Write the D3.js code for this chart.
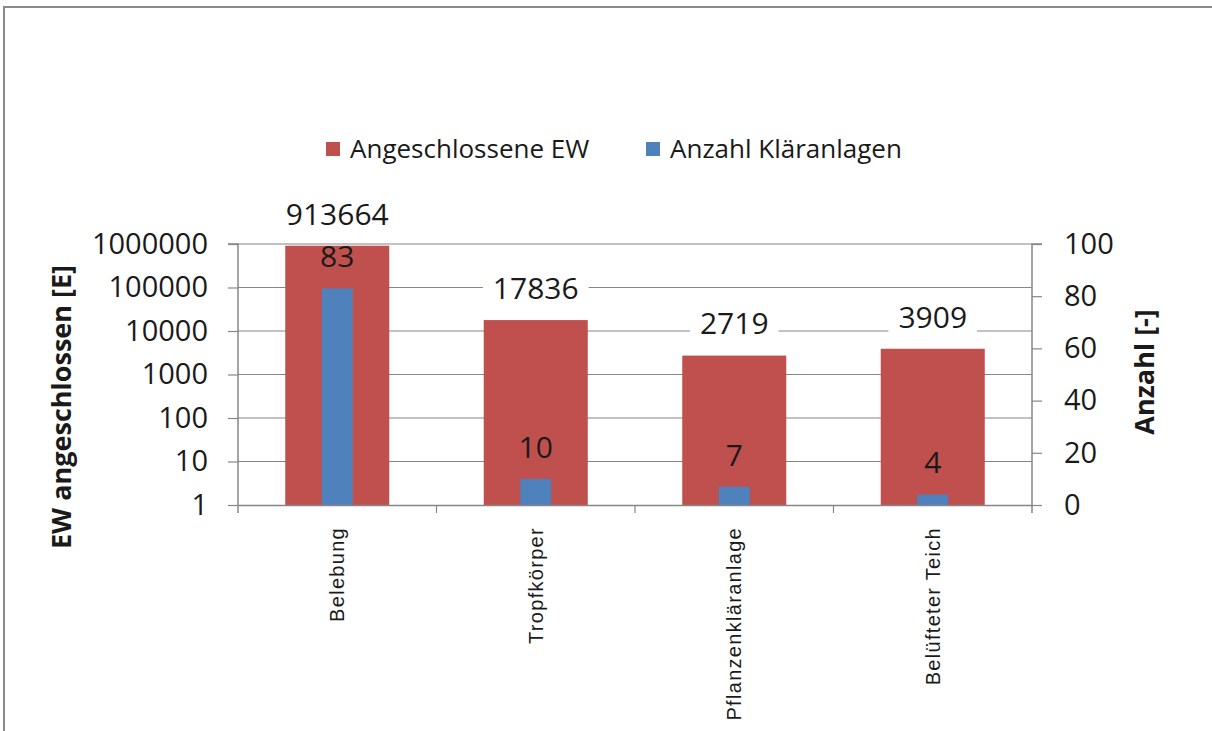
<!DOCTYPE html>
<html>
<head>
<meta charset="utf-8">
<script src="https://cdn.jsdelivr.net/npm/d3@7"></script>
<style>
  html, body { margin: 0; padding: 0; background: #fff; }
  svg { display: block; font-family: "Open Sans", sans-serif; }
</style>
</head>
<body>
<svg id="canvas" width="1212" height="731"></svg>
<script>
const categories = ["Belebung", "Tropfkörper", "Pflanzenkläranlage", "Belüfteter Teich"];
const ewValues = [913664, 17836, 2719, 3909];
const anzahlValues = [83, 10, 7, 4];
const leftTicks = [1, 10, 100, 1000, 10000, 100000, 1000000];
const rightTicks = [0, 20, 40, 60, 80, 100];
const seriesNames = ["Angeschlossene EW", "Anzahl Kläranlagen"];

const width = 1212;
const height = 731;
const red = "#C0504D";
const blue = "#4F81BD";
const gridColor = "#868686";
const textColor = "#1a1a1a";

const plot = { left: 238, right: 1032, top: 244, bottom: 505 };

const svg = d3.select("svg#canvas");

// outer frame
svg.append("rect")
    .attr("x", 4)
    .attr("y", 7)
    .attr("width", width + 10)
    .attr("height", height + 10)
    .attr("fill", "#fff")
    .attr("stroke", "#8a8a8a")
    .attr("stroke-width", 2);

const x = d3.scaleBand()
    .domain(categories)
    .range([plot.left, plot.right]);

const yLeft = d3.scaleLog()
    .domain([1, 1000000])
    .range([plot.bottom, plot.top]);

const yRight = d3.scaleLinear()
    .domain([0, 100])
    .range([plot.bottom, plot.top]);

// gridlines
svg.append("g")
    .attr("stroke", gridColor)
    .attr("stroke-width", 1.2)
  .selectAll("line")
  .data(leftTicks.slice(1))
  .join("line")
    .attr("x1", plot.left)
    .attr("x2", plot.right)
    .attr("y1", d => yLeft(d))
    .attr("y2", d => yLeft(d));

const redW = x.bandwidth() * 0.524;
const blueW = x.bandwidth() * 0.156;

svg.append("g")
    .attr("fill", red)
  .selectAll("rect")
  .data(ewValues)
  .join("rect")
    .attr("x", (d, i) => x(categories[i]) + (x.bandwidth() - redW) / 2)
    .attr("y", d => yLeft(d))
    .attr("width", redW)
    .attr("height", d => yLeft(1) - yLeft(d));

svg.append("g")
    .attr("fill", blue)
  .selectAll("rect")
  .data(anzahlValues)
  .join("rect")
    .attr("x", (d, i) => x(categories[i]) + (x.bandwidth() - blueW) / 2)
    .attr("y", d => yRight(d))
    .attr("width", blueW)
    .attr("height", d => yRight(0) - yRight(d));

// axes
const axisLeft = svg.append("g")
    .attr("transform", `translate(${plot.left},0)`)
    .call(d3.axisLeft(yLeft).tickValues(leftTicks).tickFormat(d3.format("d")).tickSize(10).tickPadding(20));

const axisRight = svg.append("g")
    .attr("transform", `translate(${plot.right},0)`)
    .call(d3.axisRight(yRight).tickValues(rightTicks).tickSize(10).tickPadding(22));

const axisBottom = svg.append("g")
    .attr("transform", `translate(0,${plot.bottom})`)
    .call(d3.axisBottom(x).tickSize(0).tickFormat(""));

for (const g of [axisLeft, axisRight, axisBottom]) {
  g.select(".domain").attr("stroke", gridColor).attr("stroke-width", 1.5);
  g.selectAll(".tick line").attr("stroke", gridColor).attr("stroke-width", 1.2);
  g.selectAll(".tick text")
      .attr("fill", textColor)
      .style("font-family", "'Open Sans', sans-serif")
      .style("font-size", "29px");
}
axisLeft.select(".domain").attr("d", `M-10,${plot.top}H0V${plot.bottom + 8}`);
axisRight.select(".domain").attr("d", `M10,${plot.top}H0V${plot.bottom + 8}`);

// category boundary ticks
svg.append("g")
    .attr("stroke", gridColor)
    .attr("stroke-width", 1.2)
  .selectAll("line")
  .data(categories.slice(1))
  .join("line")
    .attr("x1", d => x(d))
    .attr("x2", d => x(d))
    .attr("y1", plot.bottom)
    .attr("y2", plot.bottom + 8);

// category labels
svg.append("g")
  .selectAll("text")
  .data(categories)
  .join("text")
    .attr("transform", d => `translate(${x(d) + x.bandwidth() / 2},${plot.bottom + 22}) rotate(-90)`)
    .attr("text-anchor", "end")
    .attr("dy", "0.35em")
    .attr("fill", textColor)
    .style("font-family", "'Liberation Sans', Arial, sans-serif")
    .style("font-size", "20px")
    .style("letter-spacing", "1.3px")
    .text(d => d);

// data labels for EW, with white boxes
const ewLabels = svg.append("g")
  .selectAll("g")
  .data(ewValues)
  .join("g")
    .attr("transform", (d, i) => `translate(${x(categories[i]) + x.bandwidth() / 2},${yLeft(d) - 32})`);

ewLabels.append("text")
    .attr("text-anchor", "middle")
    .attr("dy", "0.36em")
    .attr("fill", textColor)
    .style("font-size", "30px")
    .text(d => d);

ewLabels.each(function() {
  const g = d3.select(this);
  const b = g.select("text").node().getBBox();
  g.insert("rect", "text")
      .attr("x", b.x - 10)
      .attr("y", b.y - 2)
      .attr("width", b.width + 20)
      .attr("height", b.height + 4)
      .attr("fill", "#fff");
});

// data labels for Anzahl
svg.append("g")
  .selectAll("text")
  .data(anzahlValues)
  .join("text")
    .attr("x", (d, i) => x(categories[i]) + x.bandwidth() / 2)
    .attr("y", d => yRight(d) - 32)
    .attr("text-anchor", "middle")
    .attr("dy", "0.36em")
    .attr("fill", textColor)
    .style("font-size", "30px")
    .text(d => d);

// axis titles
svg.append("text")
    .attr("transform", "translate(62,407) rotate(-90)")
    .attr("text-anchor", "middle")
    .attr("dy", "0.35em")
    .attr("fill", textColor)
    .style("font-size", "27px")
    .style("font-weight", "bold")
    .text("EW angeschlossen [E]");

svg.append("text")
    .attr("transform", "translate(1145,372) rotate(-90)")
    .attr("text-anchor", "middle")
    .attr("dy", "0.35em")
    .attr("fill", textColor)
    .style("font-size", "27px")
    .style("font-weight", "bold")
    .text("Anzahl [-]");

// legend
const legend = svg.append("g")
  .selectAll("g")
  .data(seriesNames)
  .join("g")
    .attr("transform", (d, i) => `translate(${[326, 646][i]},142)`);

legend.append("rect")
    .attr("width", 14)
    .attr("height", 14)
    .attr("fill", (d, i) => [red, blue][i]);

legend.append("text")
    .attr("x", 24)
    .attr("y", 7)
    .attr("dy", "0.36em")
    .attr("fill", textColor)
    .style("font-size", "26px")
    .text(d => d);
</script>
</body>
</html>
